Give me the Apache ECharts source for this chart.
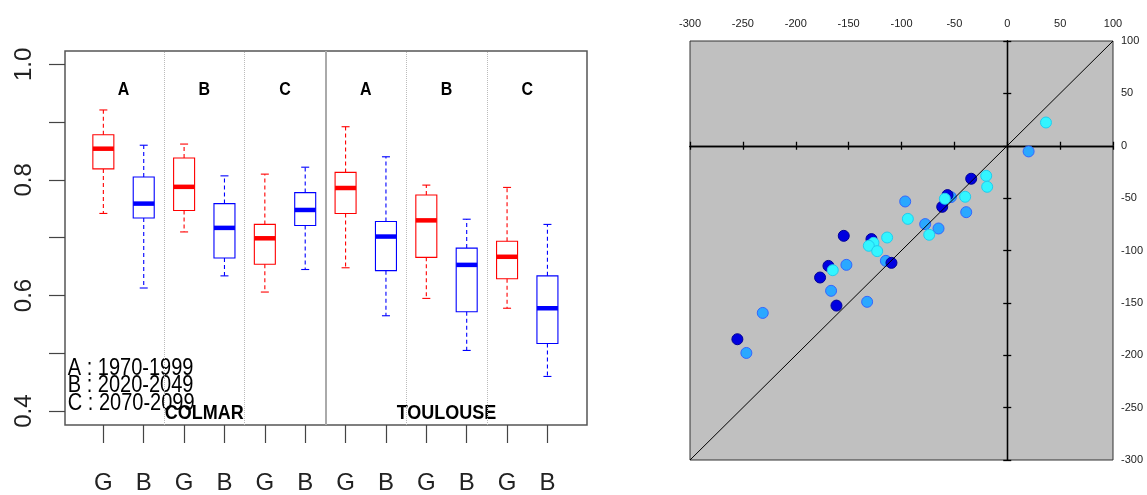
<!DOCTYPE html>
<html>
<head>
<meta charset="utf-8">
<script src="https://cdn.jsdelivr.net/npm/echarts@6/dist/echarts.min.js"></script>
<style>html,body{margin:0;padding:0;background:#fff}#chart{width:1147px;height:495px}</style>
</head>
<body>
<div id="chart"></div>
<script>
// left : boxplots, Colmar A B C then Toulouse A B C, G (red) then B (blue)
var boxPos = [1, 2, 3, 4, 5, 6, 7, 8, 9, 10, 11, 12];
var boxNames = ['G', 'B', 'G', 'B', 'G', 'B', 'G', 'B', 'G', 'B', 'G', 'B'];
var whiskLow = [0.742, 0.613, 0.710, 0.634, 0.606, 0.645, 0.648, 0.565, 0.595, 0.505, 0.578, 0.460];
var q1 = [0.819, 0.734, 0.747, 0.665, 0.654, 0.721, 0.742, 0.643, 0.666, 0.572, 0.629, 0.517];
var med = [0.854, 0.759, 0.788, 0.717, 0.699, 0.748, 0.786, 0.702, 0.730, 0.653, 0.667, 0.578];
var q3 = [0.878, 0.805, 0.838, 0.759, 0.723, 0.778, 0.813, 0.728, 0.774, 0.682, 0.694, 0.634];
var whiskHigh = [0.921, 0.860, 0.862, 0.807, 0.810, 0.822, 0.892, 0.840, 0.791, 0.732, 0.787, 0.723];

var periodNames = ['A', 'B', 'C', 'A', 'B', 'C'];
var periodPos = [1.5, 3.5, 5.5, 7.5, 9.5, 11.5];
var periodY = 0.956;
var siteNames = ['COLMAR', 'TOULOUSE'];
var sitePos = [3.5, 9.5];
var siteY = 0.397;
var legendLines = ['A : 1970-1999', 'B : 2020-2049', 'C : 2070-2099'];
var legendY = [0.474, 0.445, 0.414];
var legendX = 0.12;
var dottedSep = [2.5, 4.5, 8.5, 10.5];
var siteSep = [6.5];

var yTicks = [0.4, 0.5, 0.6, 0.7, 0.8, 0.9, 1.0];
var yLabels = [0.4, 0.6, 0.8, 1.0];

// right : scatter (x, y)
var darkX = [-34.1, -56.5, -61.5, -154.6, -128.4, -109.5, -169.1, -177.0, -161.5, -255.2];
var darkY = [-31.5, -47.1, -58.3, -86.0, -89.1, -111.8, -114.7, -125.8, -152.6, -184.7];
var midX = [20.2, -53.3, -38.8, -96.5, -77.6, -65.0, -114.8, -152.1, -166.6, -132.5, -231.2, -246.7];
var midY = [-5.4, -49.0, -63.4, -53.2, -74.8, -79.0, -109.9, -113.7, -138.5, -149.0, -159.6, -197.8];
var cyanX = [36.6, -19.9, -19.0, -59.0, -39.8, -94.0, -73.8, -113.6, -126.5, -130.9, -123.0, -165.0];
var cyanY = [22.2, -28.7, -39.2, -50.6, -48.7, -69.8, -85.0, -87.6, -92.7, -95.5, -100.6, -118.8];
var diag = [-300, 100];

var boxData = boxPos.map(function (p, i) {
    return [p, whiskLow[i], q1[i], med[i], q3[i], whiskHigh[i], i % 2];
});

// texts drawn in data coordinates
var annot = [];
periodPos.forEach(function (p, i) {
    annot.push({ v: [p, periodY], text: periodNames[i], font: 'bold 16px "Liberation Sans"', align: 'center', sy: 1.1 });
});
sitePos.forEach(function (p, i) {
    annot.push({ v: [p, siteY], text: siteNames[i], font: 'bold 18px "Liberation Sans"', align: 'center', sy: 1.15 });
});
legendLines.forEach(function (t, i) {
    annot.push({ v: [legendX, legendY[i]], text: t, font: '20px "Liberation Sans"', align: 'left', sy: 1.18 });
});

function zip(xs, ys) {
    return xs.map(function (x, i) { return [x, ys[i]]; });
}

function renderBox(params, api) {
    var x = api.value(0);
    var col = api.value(6) == 0 ? '#ff0000' : '#0000ff';
    var pLo = api.coord([x, api.value(1)]);
    var pQ1 = api.coord([x, api.value(2)]);
    var pMed = api.coord([x, api.value(3)]);
    var pQ3 = api.coord([x, api.value(4)]);
    var pHi = api.coord([x, api.value(5)]);
    var left = api.coord([x - 0.26, api.value(3)])[0];
    var right = api.coord([x + 0.26, api.value(3)])[0];
    var cx = pMed[0];
    var dash = { stroke: col, lineWidth: 1.1, lineDash: [4, 3] };
    var solid = { stroke: col, lineWidth: 1.1 };
    return {
        type: 'group',
        children: [
            { type: 'line', shape: { x1: cx, y1: pQ3[1], x2: cx, y2: pHi[1] }, style: dash },
            { type: 'line', shape: { x1: cx, y1: pQ1[1], x2: cx, y2: pLo[1] }, style: dash },
            { type: 'line', shape: { x1: cx - 4, y1: pHi[1], x2: cx + 4, y2: pHi[1] }, style: solid },
            { type: 'line', shape: { x1: cx - 4, y1: pLo[1], x2: cx + 4, y2: pLo[1] }, style: solid },
            { type: 'rect', shape: { x: left, y: pQ3[1], width: right - left, height: pQ1[1] - pQ3[1] },
              style: { fill: 'none', stroke: col, lineWidth: 1.1 } },
            { type: 'line', shape: { x1: left, y1: pMed[1], x2: right, y2: pMed[1] },
              style: { stroke: col, lineWidth: 4.5 } }
        ]
    };
}

function renderText(params, api) {
    var a = annot[params.dataIndex];
    var p = api.coord(a.v);
    return {
        type: 'text',
        x: p[0], y: p[1], scaleY: a.sy,
        style: { text: a.text, font: a.font, fill: '#000', align: a.align, verticalAlign: 'middle' }
    };
}

var zeroAxis = function (pos) {
    return {
        gridIndex: 1, type: 'value', position: pos, min: -300, max: 100, interval: 50,
        axisLine: { onZero: true, lineStyle: { color: '#000', width: 1.3 } },
        axisTick: { show: true, length: 4, lineStyle: { color: '#000', width: 1.3 } },
        axisLabel: { show: false }, splitLine: { show: false }
    };
};

var myChart = echarts.init(document.getElementById('chart'));
var option = {
    animation: false,
    backgroundColor: '#fff',
    textStyle: { fontFamily: '"Liberation Sans", Arial, sans-serif' },
    grid: [
        { left: 65, top: 51, width: 522, height: 374, show: true, borderColor: '#555', borderWidth: 1.5 },
        { left: 690, top: 41, width: 423, height: 419, show: true, backgroundColor: '#c0c0c0', borderColor: '#333', borderWidth: 1 }
    ],
    xAxis: [
        {
            gridIndex: 0, type: 'value', min: 0.05, max: 12.98,
            axisLine: { show: false },
            axisTick: { show: true, customValues: boxPos, length: 18, lineStyle: { color: '#444', width: 1.2 } },
            axisLabel: {
                customValues: boxPos, margin: 46, fontSize: 24, color: '#222',
                formatter: function (v) { return boxNames[Math.round(v) - 1]; }
            },
            splitLine: { show: false }
        },
        {
            gridIndex: 1, type: 'value', position: 'top', min: -300, max: 100, interval: 50,
            axisLine: { show: false, onZero: false }, axisTick: { show: false },
            axisLabel: { fontSize: 11, color: '#222', margin: 12 },
            splitLine: { show: false }
        },
        zeroAxis('bottom'),
        zeroAxis('top')
    ],
    yAxis: [
        {
            gridIndex: 0, type: 'value', min: 0.376, max: 1.023,
            axisLine: { show: false },
            axisTick: { show: true, customValues: yTicks, length: 16, lineStyle: { color: '#444', width: 1.2 } },
            axisLabel: {
                customValues: yLabels, rotate: 90, margin: 29, fontSize: 24, color: '#222',
                formatter: function (v) { return v.toFixed(1); }
            },
            splitLine: { show: false }
        },
        {
            gridIndex: 1, type: 'value', position: 'right', min: -300, max: 100, interval: 50,
            axisLine: { show: false, onZero: false }, axisTick: { show: false },
            axisLabel: { fontSize: 11, color: '#222', margin: 8 },
            splitLine: { show: false }
        },
        zeroAxis('left'),
        zeroAxis('right')
    ],
    series: [
        {
            type: 'custom', xAxisIndex: 0, yAxisIndex: 0,
            encode: { x: 0, y: [1, 2, 3, 4, 5] },
            data: boxData,
            renderItem: renderBox,
            silent: true,
            markLine: {
                silent: true, symbol: 'none', label: { show: false },
                data: dottedSep.map(function (v) {
                    return { xAxis: v, lineStyle: { color: '#bbb', type: 'dotted', width: 1 } };
                }).concat(siteSep.map(function (v) {
                    return { xAxis: v, lineStyle: { color: '#aaa', type: 'solid', width: 2 } };
                }))
            }
        },
        {
            type: 'custom', xAxisIndex: 0, yAxisIndex: 0,
            data: annot.map(function (a) { return a.v; }),
            renderItem: renderText,
            silent: true
        },
        {
            type: 'line', xAxisIndex: 1, yAxisIndex: 1,
            data: zip(diag, diag), symbol: 'none', silent: true,
            lineStyle: { color: '#000', width: 1 }
        },
        {
            type: 'scatter', xAxisIndex: 1, yAxisIndex: 1, data: zip(midX, midY), symbolSize: 11,
            itemStyle: { color: '#2aa8ff', borderColor: '#3366ff', borderWidth: 1, opacity: 1 }
        },
        {
            type: 'scatter', xAxisIndex: 1, yAxisIndex: 1, data: zip(darkX, darkY), symbolSize: 11,
            itemStyle: { color: '#0000e0', borderColor: '#000099', borderWidth: 1, opacity: 1 }
        },
        {
            type: 'scatter', xAxisIndex: 1, yAxisIndex: 1, data: zip(cyanX, cyanY), symbolSize: 11,
            itemStyle: { color: '#33f5ff', borderColor: '#22ccee', borderWidth: 1, opacity: 1 }
        }
    ]
};
myChart.setOption(option);
</script>
</body>
</html>
